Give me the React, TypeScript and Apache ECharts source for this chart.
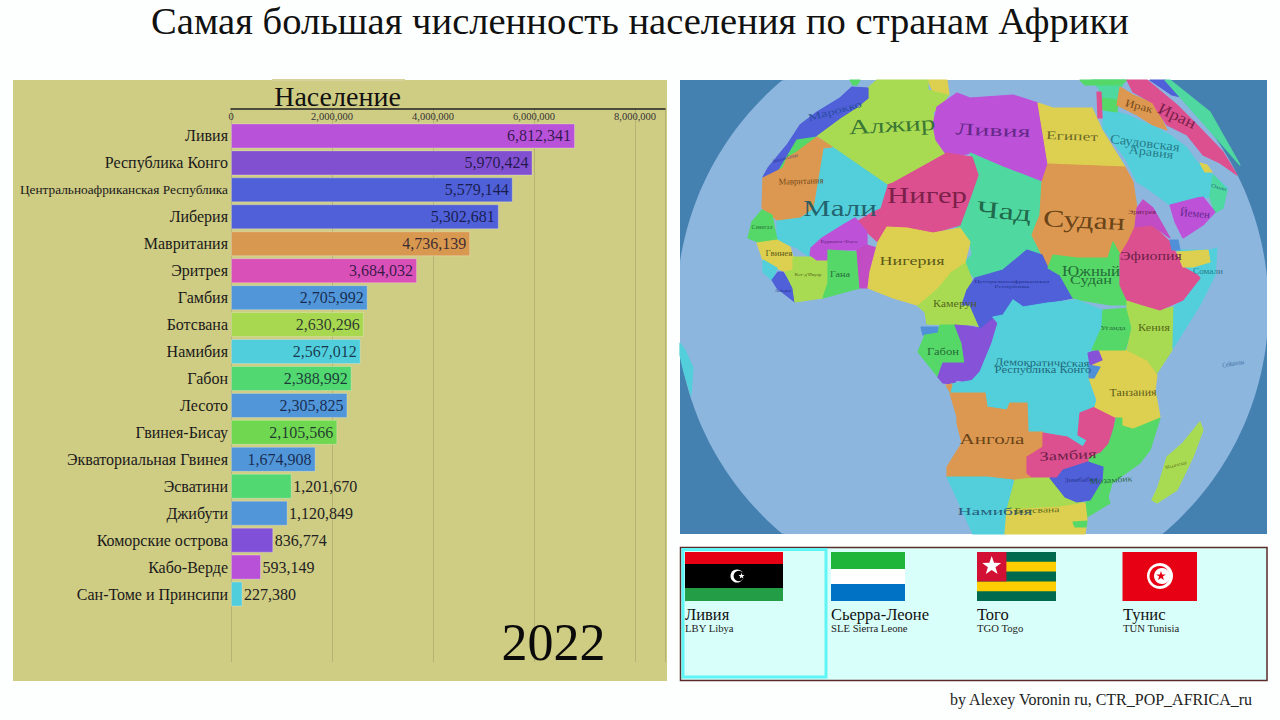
import React, { useEffect, useRef } from "react";
import * as echarts from "echarts";

const categories = ["Ливия","Республика Конго","Центральноафриканская Республика","Либерия","Мавритания","Эритрея","Гамбия","Ботсвана","Намибия","Габон","Лесото","Гвинея-Бисау","Экваториальная Гвинея","Эсватини","Джибути","Коморские острова","Кабо-Верде","Сан-Томе и Принсипи"];
const population = [6812341,5970424,5579144,5302681,4736139,3684032,2705992,2630296,2567012,2388992,2305825,2105566,1674908,1201670,1120849,836774,593149,227380];
const barColors = ["#B852D8","#8050D0","#4F60D8","#4F60D8","#D99850","#D850B8","#5096D8","#A8D850","#50CEDC","#52D870","#5096D8","#70D850","#5096D8","#52D870","#5096D8","#8050D8","#B850D8","#50CEDC"];
const SERIF = "Liberation Serif";

const C = { yg:"#A9DB52", ye:"#DDD050", cy:"#52CFDA", pu:"#BD52D8", vi:"#8552D8", bl:"#5060D8", or:"#DC9850", re:"#DC5090", te:"#4FD8A0", gr:"#55D868", sk:"#5090D8", pk:"#C24CC4" };

// decorative map: [colour, outline]
const countries: [string, number[][]][] = [
 [C.gr,[[850,80],[860,80],[857,85],[853,85]]],
 [C.ye,[[928,80],[947,80],[949,95],[935,96]]],
 [C.yg,[[868,88],[877,80],[928,80],[928,90],[948,95],[942,107],[933,112],[935,138],[947,153],[893,183],[887,185],[867,172],[832,147],[817,135],[840,118],[857,107],[868,98]]],
 [C.bl,[[852,87],[868,88],[868,98],[857,107],[840,118],[817,135],[797,152],[783,168],[763,177],[768,168],[787,145],[800,125],[817,112],[840,98]]],
 [C.gr,[[797,140],[817,137],[798,152],[783,168],[775,177]]],
 [C.pu,[[957,93],[970,98],[1013,95],[1038,103],[1048,165],[1042,182],[1003,167],[973,153],[948,157],[936,140],[933,125],[937,107]]],
 [C.ye,[[1038,103],[1053,108],[1092,108],[1102,130],[1125,167],[1048,164]]],
 [C.te,[[970,153],[1003,167],[1042,182],[1040,215],[1032,235],[1042,255],[1027,250],[1003,270],[975,278],[962,265],[972,255],[970,240],[960,235],[955,222],[970,198],[978,175],[972,157]]],
 [C.or,[[1048,164],[1125,167],[1133,182],[1137,208],[1135,227],[1128,242],[1120,255],[1113,242],[1108,258],[1077,258],[1053,255],[1048,268],[1042,255],[1032,235],[1040,215],[1042,182]]],
 [C.re,[[947,153],[972,157],[978,175],[970,198],[960,225],[933,233],[907,228],[887,227],[878,242],[867,232],[855,223],[880,208],[887,185],[893,183]]],
 [C.cy,[[823,148],[832,147],[887,185],[880,208],[855,218],[843,225],[815,245],[810,257],[797,248],[777,240],[777,220],[800,217],[813,208],[818,178]]],
 [C.or,[[817,137],[832,147],[823,148],[818,178],[813,208],[800,217],[777,220],[762,208],[763,178],[783,168],[787,158],[797,152]]],
 [C.gr,[[752,222],[762,210],[772,215],[777,240],[760,243],[748,238]]],
 [C.ye,[[757,243],[777,240],[790,247],[793,257],[793,270],[785,272],[777,268],[763,260]]],
 [C.cy,[[763,260],[777,268],[772,280],[763,272]]],
 [C.bl,[[778,272],[783,272],[793,288],[795,302],[777,288],[772,280]]],
 [C.yg,[[793,257],[810,257],[828,260],[828,283],[823,298],[795,302],[793,288],[785,272],[793,270]]],
 [C.pu,[[811,248],[822,238],[843,225],[855,218],[867,232],[867,245],[857,250],[828,250],[827,260],[817,260],[810,255]]],
 [C.gr,[[828,250],[857,252],[860,288],[823,298],[828,283]]],
 [C.pk,[[857,250],[867,245],[877,248],[870,272],[869,288],[860,288]]],
 [C.yg,[[950,272],[965,262],[972,280],[970,305],[980,328],[975,325],[953,325],[927,324],[925,312],[917,305],[937,288]]],
 [C.ye,[[878,242],[887,227],[907,228],[933,233],[960,228],[970,242],[965,262],[950,272],[937,288],[917,305],[893,298],[868,288],[870,272]]],
 [C.sk,[[921,327],[938,327],[938,335],[923,335]]],
 [C.gr,[[925,335],[938,333],[940,325],[955,325],[962,343],[965,363],[943,363],[938,377],[918,352]]],
 [C.vi,[[955,325],[968,326],[980,328],[993,317],[998,323],[992,343],[982,370],[970,383],[957,380],[953,384],[943,383],[938,377],[943,363],[965,363],[962,343]]],
 [C.bl,[[975,278],[1003,270],[1027,250],[1042,255],[1048,268],[1060,275],[1073,298],[1047,303],[1023,307],[1013,300],[1003,315],[993,317],[980,328],[970,305],[962,305],[967,290]]],
 [C.gr,[[1053,255],[1077,258],[1108,258],[1113,242],[1120,255],[1122,275],[1127,288],[1137,298],[1127,305],[1110,305],[1080,300],[1073,298],[1060,275],[1048,268]]],
 [C.cy,[[951,384],[975,380],[985,393],[950,393]]],
 [C.or,[[946,385],[952,384],[950,392]]],
 [C.cy,[[1003,315],[1013,300],[1023,307],[1047,303],[1077,300],[1102,310],[1102,327],[1092,350],[1088,377],[1095,400],[1097,407],[1080,413],[1077,433],[1087,440],[1083,447],[1067,437],[1045,432],[1028,433],[1027,403],[1010,403],[1007,410],[987,407],[985,393],[970,393],[968,385],[980,372],[992,343],[998,323],[993,317]]],
 [C.or,[[950,393],[985,393],[987,407],[1007,410],[1010,403],[1027,403],[1028,432],[1043,432],[1043,447],[1027,457],[1027,473],[1033,478],[1013,480],[987,477],[947,477],[947,467],[962,443],[957,423],[957,417]]],
 [C.gr,[[1117,417],[1123,417],[1123,425],[1160,418],[1150,450],[1140,463],[1112,483],[1108,497],[1110,503],[1087,517],[1085,503],[1090,500],[1102,480],[1103,467],[1088,462],[1088,457],[1100,452],[1108,443],[1113,427]]],
 [C.re,[[1043,433],[1067,437],[1083,447],[1087,440],[1078,435],[1080,413],[1095,407],[1115,417],[1113,427],[1108,443],[1100,452],[1088,457],[1088,462],[1063,470],[1057,478],[1033,478],[1027,473],[1027,457],[1043,447]]],
 [C.cy,[[947,477],[987,477],[1013,480],[1015,507],[1007,510],[1005,534],[973,534],[960,505]]],
 [C.yg,[[1015,480],[1033,478],[1050,478],[1065,497],[1077,502],[1085,503],[1060,507],[1007,510]]],
 [C.ye,[[1007,510],[1060,507],[1085,503],[1087,520],[1085,534],[1005,534]]],
 [C.gr,[[1073,522],[1087,521],[1086,527],[1075,527]]],
 [C.bl,[[1050,478],[1057,478],[1063,470],[1088,462],[1103,467],[1102,480],[1090,500],[1077,502],[1065,497]]],
 [C.ye,[[1098,350],[1127,350],[1147,360],[1157,375],[1155,390],[1160,417],[1133,428],[1123,425],[1123,417],[1115,417],[1095,407],[1097,400],[1089,378],[1090,367]]],
 [C.vi,[[1088,353],[1098,350],[1102,360],[1090,365]]],
 [C.sk,[[1089,365],[1100,367],[1094,378],[1089,378]]],
 [C.gr,[[1103,310],[1127,308],[1132,328],[1125,350],[1092,350],[1102,327]]],
 [C.yg,[[1127,308],[1127,300],[1140,303],[1158,310],[1174,307],[1172,350],[1157,373],[1147,360],[1127,350],[1132,328]]],
 [C.cy,[[1177,250],[1210,250],[1217,248],[1215,275],[1200,305],[1173,348],[1174,307],[1183,300],[1193,282]]],
 [C.re,[[1135,227],[1152,225],[1170,242],[1178,257],[1183,267],[1197,275],[1200,278],[1183,300],[1160,310],[1143,305],[1127,300],[1120,285],[1120,255],[1128,242]]],
 [C.ye,[[1177,252],[1208,250],[1210,262],[1193,267],[1183,267]]],
 [C.sk,[[1170,240],[1178,240],[1180,250],[1172,250]]],
 [C.pk,[[1135,227],[1137,208],[1143,200],[1153,208],[1170,238],[1152,225]]],
 [C.cy,[[1103,110],[1117,112],[1127,115],[1157,128],[1170,135],[1187,148],[1197,162],[1213,175],[1227,188],[1223,208],[1210,197],[1197,198],[1170,205],[1147,188],[1137,182],[1125,158],[1103,128]]],
 [C.te,[[1213,175],[1227,190],[1223,208],[1215,213],[1210,197]]],
 [C.ye,[[1200,163],[1207,165],[1212,172],[1205,172]]],
 [C.pu,[[1170,205],[1197,198],[1203,197],[1215,212],[1203,225],[1183,238],[1175,222]]],
 [C.te,[[1092,80],[1125,80],[1120,90],[1117,105],[1103,108],[1100,100],[1100,90]]],
 [C.gr,[[1080,80],[1127,80],[1120,85],[1085,85]]],
 [C.gr,[[1100,98],[1118,100],[1117,112],[1103,110]]],
 [C.re,[[1097,92],[1101,92],[1102,118],[1098,118]]],
 [C.or,[[1120,87],[1133,95],[1153,103],[1158,112],[1167,130],[1153,125],[1137,115],[1117,105]]],
 [C.bl,[[1150,80],[1165,80],[1185,98],[1172,95]]],
 [C.te,[[1165,80],[1170,80],[1210,112],[1240,165],[1205,125]]],
 [C.re,[[1127,80],[1147,80],[1177,105],[1197,125],[1223,152],[1237,175],[1220,163],[1203,155],[1187,135],[1167,125],[1158,112],[1153,103],[1133,92]]],
 [C.yg,[[1200,422],[1203,430],[1193,457],[1177,490],[1157,503],[1152,500],[1158,487],[1167,457],[1183,443]]],
 [C.cy,[[680,343],[685,350],[693,368],[691,395],[684,372],[680,355]]],
];

// decorative map labels: text, centre x, centre y, width, size, degrees, colour
const mapLabels: [string, number, number, number, number, number, string][] = [
 ["Марокко",835,111,55,10,15,"#234a9a"],["Алжир",892,125,87,21,3,"#2c6a30"],["Ливия",993,130,75,17,-2,"#5a2380"],
 ["Египет",1072,136,52,12,-2,"#5a5a20"],["Саудовская",1145,143,70,13,-7,"#1f6f80"],["Аравия",1151,152,45,12,-7,"#1f6f80"],
 ["Ирак",1139,106,28,11,-15,"#6a4010"],["Иран",1177,116,40,16,-25,"#701a40"],["Йемен",1195,213,30,11,-5,"#552080"],
 ["Мавритания",801,181,45,9,2,"#6a4010"],["Мали",840,208,74,24,0,"#1a5560"],["Нигер",927,195,80,24,0,"#701a40"],
 ["Чад",1004,211,55,24,-5,"#1a5a40"],["Судан",1084,220,82,24,-3,"#5a3810"],["Нигерия",912,260,65,13,0,"#4a4a10"],
 ["Гана",840,274,20,9,0,"#1c5c30"],["Гвинея",779,253,27,9,0,"#4a4a10"],["Сенегал",762,226,21,7,0,"#1c5c30"],
 ["Южный",1091,271,58,15,0,"#1c5c30"],["Судан",1091,280,42,13,0,"#1c5c30"],["Эфиопия",1151,256,62,13,0,"#601a40"],
 ["Сомали",1208,271,30,9,0,"#1f6f80"],["Эритрея",1142,212,28,7,0,"#601a40"],["Камерун",955,303,44,10,0,"#4a5a10"],
 ["Габон",943,351,32,11,0,"#1c5c30"],["Демократическая",1042,363,95,10.5,-1,"#1a5a70"],["Республика Конго",1043,369.5,97,10.5,0,"#1a5a70"],
 ["Уганда",1113,328,25,7,0,"#1c5c30"],["Кения",1154,327,32,10,0,"#4a5a10"],["Танзания",1133,392,47,11,1,"#4a4a10"],
 ["Ангола",992,439,65,15,0,"#5a3810"],["Замбия",1068,455,57,13,3,"#601a40"],["Намибия",995,511,75,11,0,"#204f70"],
 ["Ботсвана",1037,510,45,8,2,"#4a5a10"],["Зимбабве",1081,480,33,6,2,"#1a2a80"],["Мозамбик",1111,480,43,8,4,"#1c5c30"],
 ["Мадагаскар",1176,465,22,5,15,"#4a5a10"],["Сейшелы",1233,363,22,7,10,"#2a5a90"],["Оман",1219,187,16,6,-15,"#1f6f80"],
 ["Центральноафриканская",1012,281,75,5,0,"#1a2a80"],["Республика",1012,286,35,5,0,"#1a2a80"],["Буркина-Фасо",839,241,37,5,0,"#501a70"],
 ["Кот-д'Ивуар",808,274,27,5,0,"#4a5a10"],["Либерия",783,291,16,4,0,"#1a2a80"],["Западная Сахара",785,158,26,5,15,"#1a2a80"],
];

const legendItems: [string, string, number][] = [
 ["Ливия","LBY Libya",685],["Сьерра-Леоне","SLE Sierra Leone",831],["Того","TGO Togo",977],["Тунис","TUN Tunisia",1123],
];

const ctx = document.createElement("canvas").getContext("2d") as CanvasRenderingContext2D;
function label(t: string, x: number, y: number, w: number, size: number, deg: number, fill: string) {
  ctx.font = `${size}px "${SERIF}"`;
  const m = ctx.measureText(t).width || w;
  return { type: "text", x, y, rotation: (deg * Math.PI) / 180, scaleX: w / m, silent: true,
    style: { text: t, x: 0, y: 0, fill, font: `${size}px "${SERIF}"`, textAlign: "center", textVerticalAlign: "middle", opacity: 0.9 } };
}
function text(t: string, x: number, y: number, size: number, fill = "#111") {
  return { type: "text", x, y, silent: true, style: { text: t, fill, font: `${size}px "${SERIF}"`, textAlign: "left", textVerticalAlign: "middle" } };
}
function rect(x: number, y: number, w: number, h: number, fill: string, extra: any = {}) {
  return { type: "rect", silent: true, shape: { x, y, width: w, height: h }, style: { fill, ...extra } };
}
function poly(points: number[][], fill: string) {
  return { type: "polygon", silent: true, shape: { points }, style: { fill, stroke: fill, lineWidth: 1.2, lineJoin: "round" } };
}
function star(cx: number, cy: number, r: number, fill: string) {
  const pts: number[][] = [];
  for (let i = 0; i < 10; i++) {
    const a = -Math.PI / 2 + (i * Math.PI) / 5, q = i % 2 ? r * 0.4 : r;
    pts.push([cx + q * Math.cos(a), cy + q * Math.sin(a)]);
  }
  return { type: "polygon", silent: true, shape: { points: pts }, style: { fill } };
}
function circle(cx: number, cy: number, r: number, fill: string) {
  return { type: "circle", silent: true, shape: { cx, cy, r }, style: { fill } };
}
function globe() {
  const pts: number[][] = [];
  for (let i = 0; i < 360; i++) {
    const a = (i * Math.PI) / 180;
    pts.push([Math.max(680, Math.min(1267, 972.5 + 296 * Math.cos(a))), Math.max(80, Math.min(534, 307 + 296 * Math.sin(a)))]);
  }
  return { type: "polygon", silent: true, shape: { points: pts }, style: { fill: "#8DB6DF" } };
}

const graphics: any[] = [
  rect(13, 80, 654, 601, "#CFCC84"),
  rect(272, 79, 133, 2, "#D6D39A"),
  rect(680, 80, 587, 454, "#4480B0"),
  globe(),
  ...countries.map(([f, p]) => poly(p, f)),
  ...mapLabels.map((l) => label(...l)),
  rect(680.5, 547.5, 586.5, 133, "#D9FFFB", { stroke: "#5a2b2b", lineWidth: 1.5 }),
  rect(683, 549.5, 143, 127.5, "transparent", { stroke: "#5FF5F5", lineWidth: 3 }),
  rect(685, 552, 98, 12, "#E70013"), rect(685, 564, 98, 24, "#000"), rect(685, 588, 98, 13, "#239E46"),
  circle(737, 576, 6.5, "#fff"), circle(738.8, 576, 5.2, "#000"), star(741.5, 576, 3.2, "#fff"),
  rect(831, 552, 74, 17, "#1EB53A"), rect(831, 569, 74, 15, "#fff"), rect(831, 584, 74, 17, "#0072C6"),
  rect(977, 552, 79, 49, "#006A4E"), rect(977, 561.8, 79, 9.8, "#FFCE00"), rect(977, 581.4, 79, 9.8, "#FFCE00"),
  rect(977, 552, 29.4, 29.4, "#D21034"), star(991.7, 566, 10, "#fff"),
  rect(1122.5, 552, 74.5, 49, "#E70013"), circle(1160, 576, 13, "#fff"), circle(1159.5, 576, 10, "#E70013"),
  circle(1162, 576, 8, "#fff"), star(1161, 576, 5, "#E70013"),
  ...legendItems.flatMap(([ru, en, x]) => [text(ru, x, 614, 16.5), text(en, x, 628, 10.7, "#222")]),
  text("by Alexey Voronin ru, CTR_POP_AFRICA_ru", 950, 699, 16, "#222"),
  { type: "text", x: 553.5, y: 642, silent: true, z: 20, style: { text: "2022", fill: "#0a0a0a", font: `52px "${SERIF}"`, textAlign: "center", textVerticalAlign: "middle" } },
];

const X_MAX = 8594000;

export default function App() {
  const ref = useRef<HTMLDivElement>(null);
  useEffect(() => {
    document.body.style.margin = "0";
    const chart = echarts.init(ref.current as HTMLDivElement, undefined, { renderer: "svg" });
    chart.setOption({
      animation: false,
      backgroundColor: "#FCFFFD",
      title: [
        { text: "Самая большая численность населения по странам Африки", left: 635, top: 16, textAlign: "center", textVerticalAlign: "middle",
          textStyle: { fontFamily: SERIF, fontSize: 38.6, fontWeight: "normal", color: "#111" } },
        { text: "Население", left: 332.5, top: 91, textAlign: "center", textVerticalAlign: "middle", z: 20,
          textStyle: { fontFamily: SERIF, fontSize: 28, fontWeight: "normal", color: "#111" } },
      ],
      graphic: { elements: graphics.map((g) => ({ ...g, z: g.z ?? -1 })) },
      grid: [
        { left: 231, width: 434, top: 109, height: 553 },
        { left: 231, width: 434, top: 122.5, height: 485 },
      ],
      xAxis: [
        { gridIndex: 0, type: "value", position: "top", min: 0, max: X_MAX, interval: 2000000,
          axisLine: { show: true, onZero: false, lineStyle: { color: "#222", width: 1.5 } }, axisTick: { show: false },
          splitLine: { show: true, lineStyle: { color: "rgba(90,90,60,0.22)", width: 1 } },
          axisLabel: { show: true, fontFamily: SERIF, fontSize: 10.5, color: "#333", margin: -13, showMaxLabel: false,
            formatter: (v: number) => v.toLocaleString("en-US") } },
        { gridIndex: 1, type: "value", min: 0, max: X_MAX, show: false },
      ],
      yAxis: [
        { gridIndex: 0, type: "value", show: false, min: 0, max: 1 },
        { gridIndex: 1, type: "category", inverse: true, data: categories,
          axisLine: { show: false }, axisTick: { show: false },
          axisLabel: { fontFamily: SERIF, fontSize: 16, color: "#1a1a1a", margin: 3, interval: 0,
            formatter: (v: string) => (v.length > 25 ? `{s|${v}}` : v),
            rich: { s: { fontFamily: SERIF, fontSize: 13.3, color: "#1a1a1a" } } } },
      ],
      series: [{
        type: "bar", xAxisIndex: 1, yAxisIndex: 1, barWidth: 25, silent: true,
        data: population.map((v, i) => ({
          value: v,
          itemStyle: { color: barColors[i], borderColor: "rgba(255,255,255,0.25)", borderWidth: 1 },
          label: v > 1500000
            ? { position: "insideRight", distance: 4, color: "rgba(10,10,40,0.78)" }
            : { position: "right", distance: 1.5, color: "#222" },
        })),
        label: { show: true, fontFamily: SERIF, fontSize: 16, formatter: (p: any) => p.value.toLocaleString("en-US") },
      }],
    });
    return () => chart.dispose();
  }, []);
  return <div ref={ref} style={{ width: 1280, height: 720 }} />;
}
